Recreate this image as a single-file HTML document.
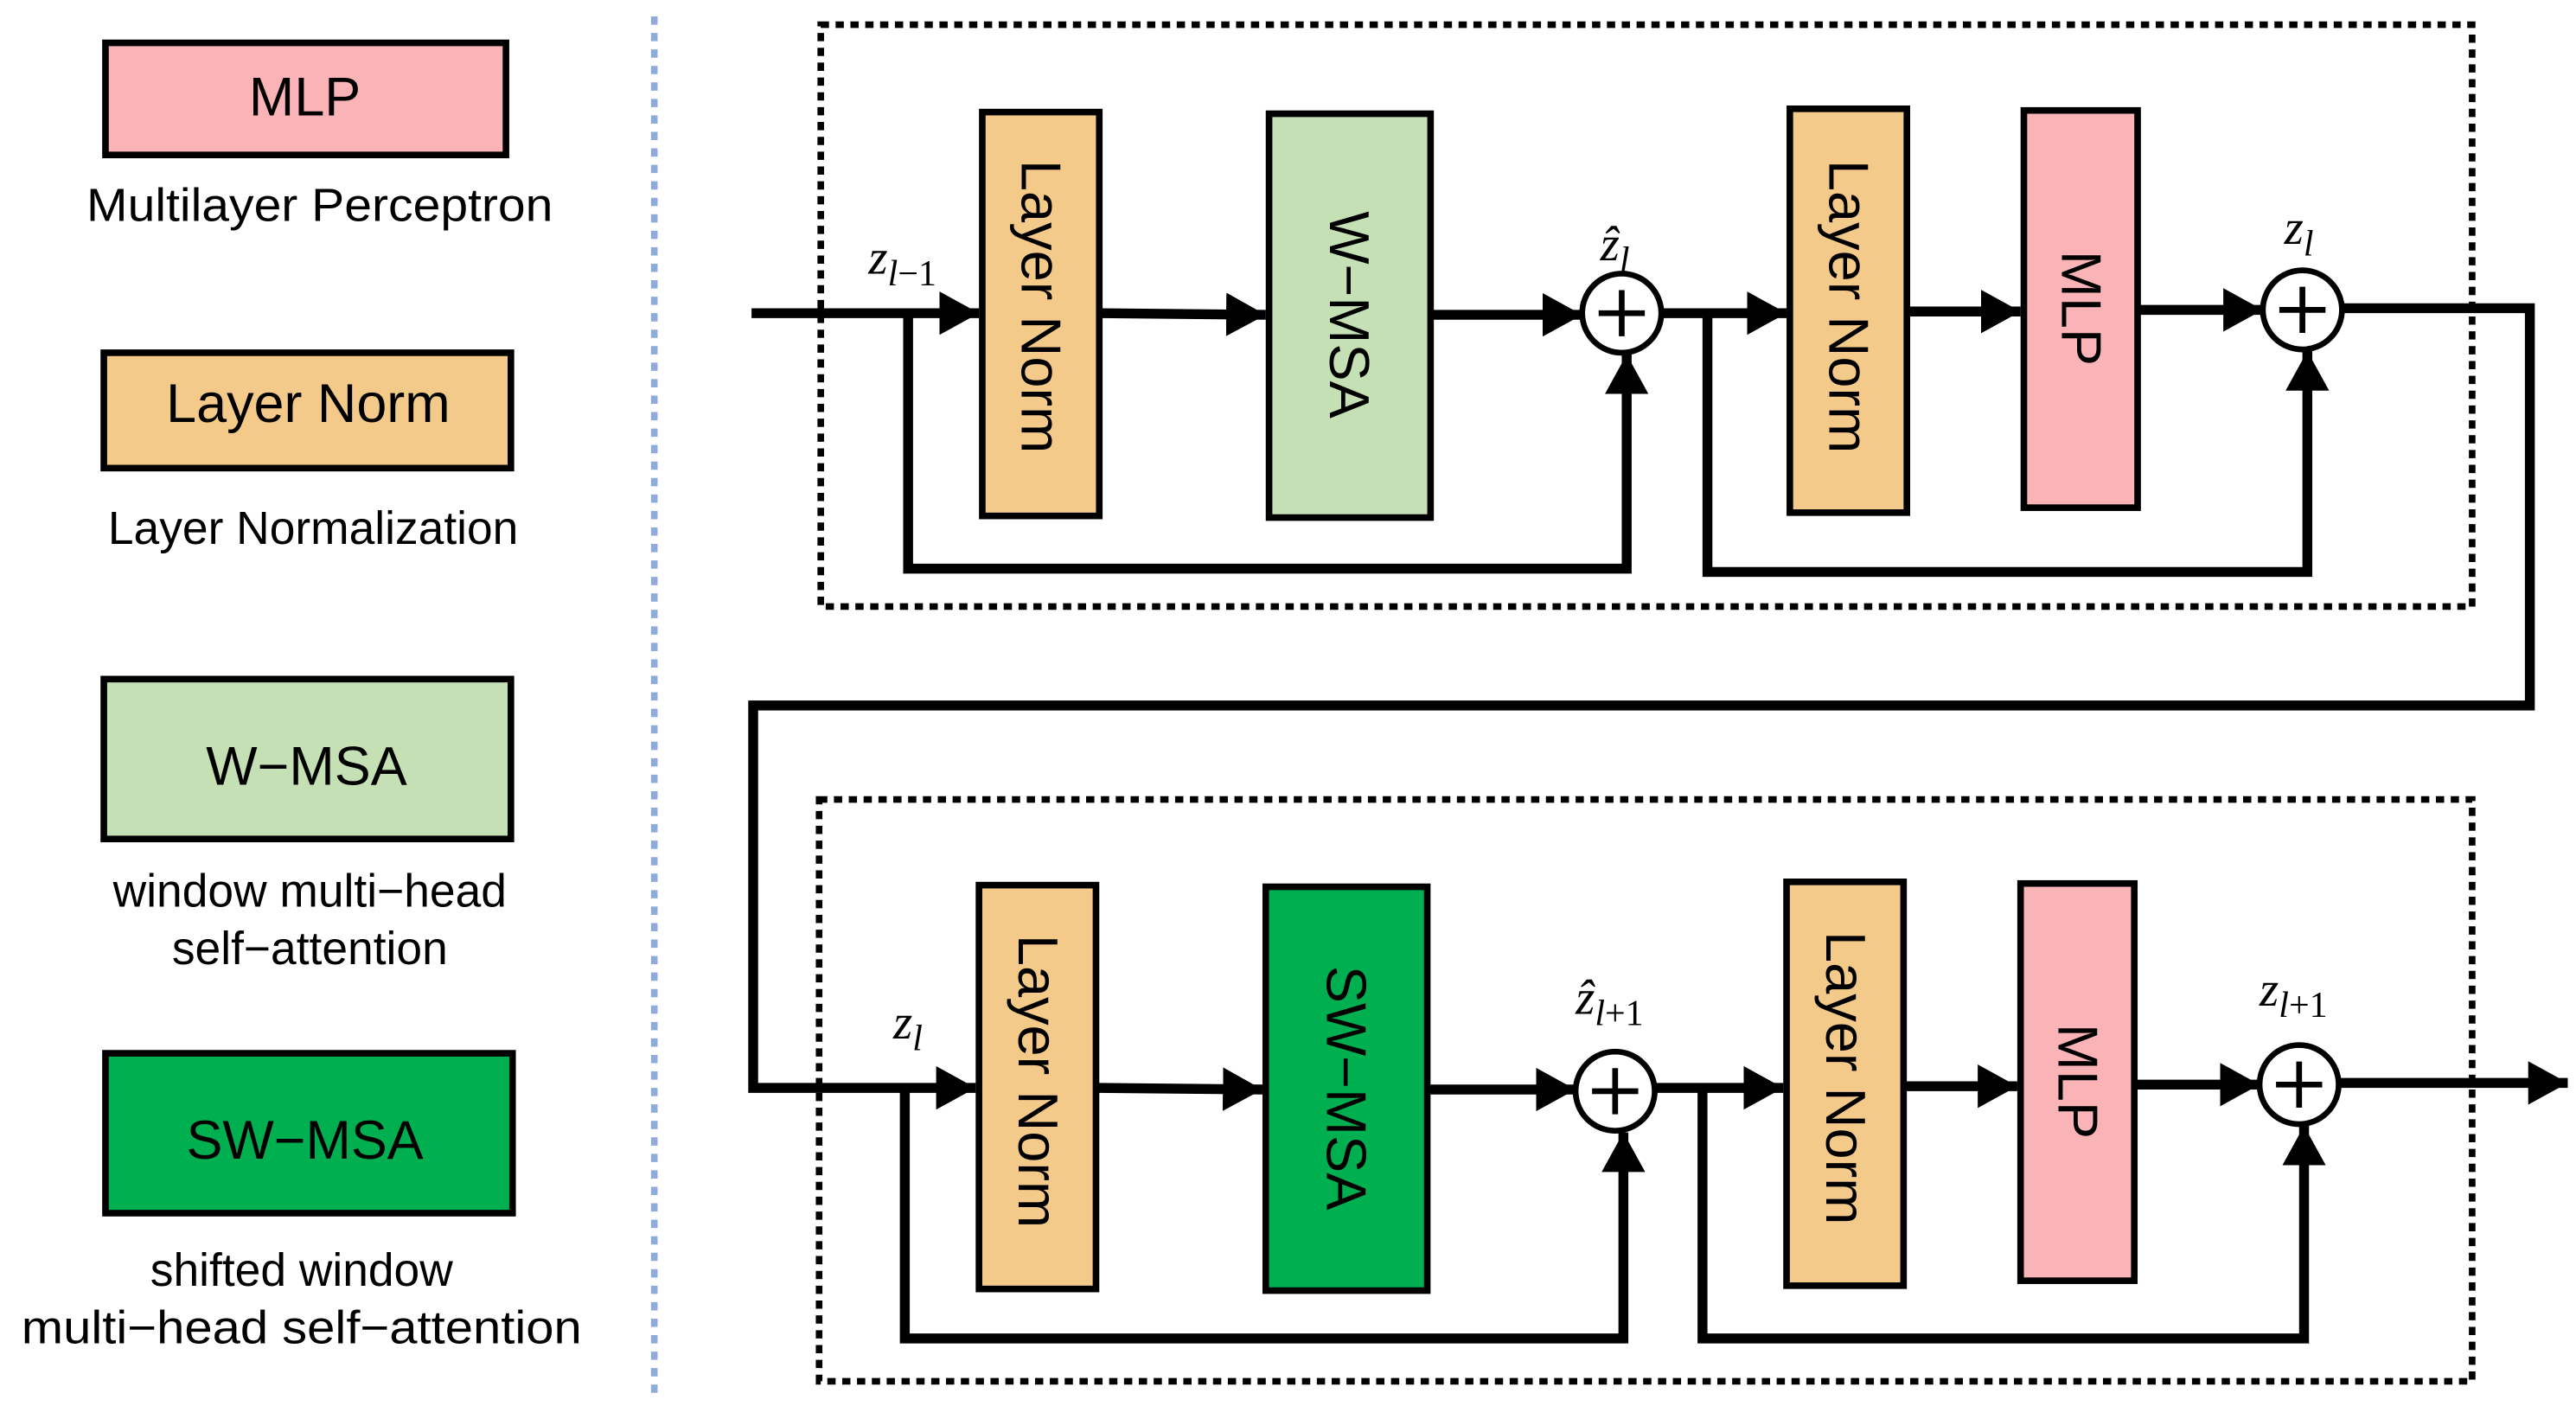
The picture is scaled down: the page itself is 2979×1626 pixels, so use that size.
<!DOCTYPE html>
<html><head><meta charset="utf-8"><style>
html,body{margin:0;padding:0;background:#fff;}
svg{display:block;}
text{font-family:"Liberation Sans",sans-serif;fill:#000;}
.m{font-family:"Liberation Serif",serif;font-style:italic;}
</style></head><body>
<svg width="2979" height="1626" viewBox="0 0 1563 853" preserveAspectRatio="none" xmlns="http://www.w3.org/2000/svg">
<defs>
<marker id="a" markerWidth="4" markerHeight="4.4" refX="4" refY="2.2" orient="auto" markerUnits="strokeWidth"><path d="M0,0 L4,2.2 L0,4.4 Z" fill="#000"/></marker>
</defs>
<rect width="1563" height="853" fill="#fff"/>
<!-- legend -->
<g stroke="#000" stroke-width="4">
<rect x="64" y="26" width="243" height="68" fill="#fab4b7"/>
<rect x="63" y="214" width="247" height="70" fill="#f3ca8a"/>
<rect x="63" y="412" width="247" height="97" fill="#c5e0b4"/>
<rect x="64" y="639" width="247" height="97" fill="#00b050"/>
</g>
<g font-size="33" text-anchor="middle">
<text x="185" y="70">MLP</text>
<text x="187" y="256">Layer Norm</text>
<text x="186" y="476">W−MSA</text>
<text x="185" y="703">SW−MSA</text>
</g>
<g font-size="28" text-anchor="middle">
<text x="194" y="134" textLength="283" lengthAdjust="spacingAndGlyphs">Multilayer Perceptron</text>
<text x="190" y="330">Layer Normalization</text>
<text x="188" y="550">window multi−head</text>
<text x="188" y="585">self−attention</text>
<text x="183" y="780">shifted window</text>
<text x="183" y="815" textLength="340" lengthAdjust="spacingAndGlyphs">multi−head self−attention</text>
</g>
<line x1="397" y1="10" x2="397" y2="846" stroke="#8faadc" stroke-width="4" stroke-dasharray="5,5"/>
<!-- dotted boxes -->
<g fill="none" stroke="#000" stroke-width="4" stroke-dasharray="5,4">
<rect x="498" y="15" width="1002" height="353"/>
<rect x="497" y="485" width="1003" height="353"/>
</g>
<!-- blocks -->
<g stroke="#000" stroke-width="4">
<rect x="596" y="68" width="71" height="245" fill="#f3ca8a"/>
<rect x="770" y="69" width="98" height="245" fill="#c5e0b4"/>
<rect x="1086" y="66" width="71" height="245" fill="#f3ca8a"/>
<rect x="1228" y="67" width="69" height="241" fill="#fab4b7"/>
<rect x="594" y="537" width="71" height="245" fill="#f3ca8a"/>
<rect x="768" y="538" width="98" height="245" fill="#00b050"/>
<rect x="1084" y="535" width="71" height="245" fill="#f3ca8a"/>
<rect x="1226" y="536" width="69" height="241" fill="#fab4b7"/>
</g>
<g font-size="34" text-anchor="middle">
<text transform="translate(620,186) rotate(90)" textLength="178" lengthAdjust="spacingAndGlyphs">Layer Norm</text>
<text transform="translate(807,191) rotate(90)">W−MSA</text>
<text transform="translate(1110,186) rotate(90)" textLength="178" lengthAdjust="spacingAndGlyphs">Layer Norm</text>
<text transform="translate(1251,187) rotate(90)">MLP</text>
<text transform="translate(618,656) rotate(90)" textLength="178" lengthAdjust="spacingAndGlyphs">Layer Norm</text>
<text transform="translate(805,660) rotate(90)">SW−MSA</text>
<text transform="translate(1108,654) rotate(90)" textLength="178" lengthAdjust="spacingAndGlyphs">Layer Norm</text>
<text transform="translate(1249,656) rotate(90)">MLP</text>
</g>
<!-- connectors -->
<g fill="none" stroke="#000" stroke-width="6" stroke-linejoin="miter">
<line x1="456" y1="190" x2="594" y2="190" marker-end="url(#a)"/>
<line x1="668" y1="190" x2="768" y2="191" marker-end="url(#a)"/>
<line x1="869" y1="191" x2="960" y2="191" marker-end="url(#a)"/>
<polyline points="551,190 551,345 987,345 987,215" marker-end="url(#a)"/>
<line x1="1009" y1="190" x2="1084" y2="190" marker-end="url(#a)"/>
<line x1="1158" y1="189" x2="1226" y2="189" marker-end="url(#a)"/>
<line x1="1298" y1="188" x2="1373" y2="188" marker-end="url(#a)"/>
<polyline points="1036,190 1036,347 1400,347 1400,213" marker-end="url(#a)"/>
<polyline points="1422,187 1535,187 1535,428 457,428 457,660 592,660" marker-end="url(#a)"/>
<line x1="666" y1="660" x2="766" y2="661" marker-end="url(#a)"/>
<line x1="867" y1="661" x2="956" y2="661" marker-end="url(#a)"/>
<polyline points="549,660 549,812 985,812 985,687" marker-end="url(#a)"/>
<line x1="1005" y1="660" x2="1082" y2="660" marker-end="url(#a)"/>
<line x1="1156" y1="659" x2="1224" y2="659" marker-end="url(#a)"/>
<line x1="1296" y1="658" x2="1371" y2="658" marker-end="url(#a)"/>
<polyline points="1033,660 1033,812 1398,812 1398,683" marker-end="url(#a)"/>
<line x1="1420" y1="657" x2="1558" y2="657" marker-end="url(#a)"/>
</g>
<!-- sum circles -->
<g stroke="#000" stroke-width="3.5" fill="#fff">
<circle cx="984" cy="190" r="24"/>
<circle cx="1397" cy="188" r="24"/>
<circle cx="980" cy="662" r="24"/>
<circle cx="1395" cy="658" r="24"/>
</g>
<g stroke="#000" stroke-width="3.5">
<path d="M970,190 H998 M984,176 V204"/>
<path d="M1383,188 H1411 M1397,174 V202"/>
<path d="M966,662 H994 M980,648 V676"/>
<path d="M1381,658 H1409 M1395,644 V672"/>
</g>
<!-- math labels -->
<g class="m" font-size="30">
<text x="527" y="166" class="m">z<tspan font-size="22" dy="7">l</tspan><tspan font-size="22" font-style="normal">−1</tspan></text>
<text x="971" y="158" class="m">ẑ<tspan font-size="22" dy="7">l</tspan></text>
<text x="1386" y="148" class="m">z<tspan font-size="22" dy="7">l</tspan></text>
<text x="542" y="630" class="m">z<tspan font-size="22" dy="7">l</tspan></text>
<text x="956" y="615" class="m">ẑ<tspan font-size="22" dy="7">l</tspan><tspan font-size="22" font-style="normal">+1</tspan></text>
<text x="1371" y="610" class="m">z<tspan font-size="22" dy="7">l</tspan><tspan font-size="22" font-style="normal">+1</tspan></text>
</g>
</svg>
</body></html>
